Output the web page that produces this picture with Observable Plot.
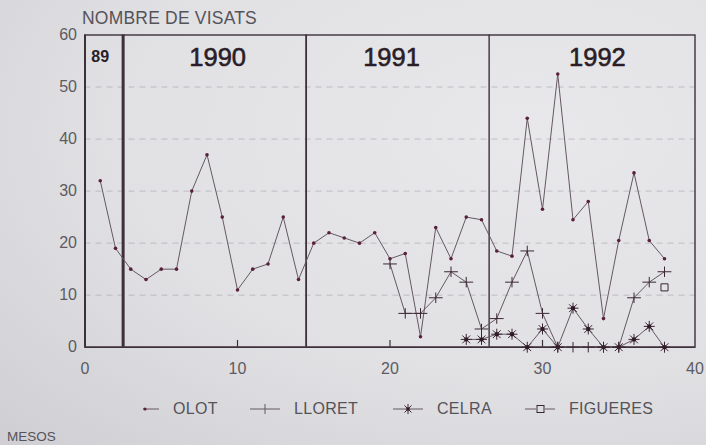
<!DOCTYPE html>
<html><head><meta charset="utf-8">
<script src="https://cdn.jsdelivr.net/npm/d3@7"></script>
<script src="https://cdn.jsdelivr.net/npm/@observablehq/plot@0.6"></script>
<style>
body{margin:0;background:#e2e2e5;}
#wrap{position:relative;width:706px;height:445px;overflow:hidden;font-family:"Liberation Sans",Arial,sans-serif;
  background:radial-gradient(ellipse at 75% 30%, #e8e8eb 0%, #e1e1e4 55%, #cfcfd3 100%);}
#chart{position:absolute;left:0;top:0;}
.t{position:absolute;white-space:nowrap;color:#55535a;}
#title{left:82px;top:8px;font-size:17.5px;letter-spacing:0.2px;}
#mesos{left:7px;top:429px;font-size:13.5px;}
.leg{font-size:16px;top:400px;letter-spacing:0.3px;}
.sym{position:absolute;top:400px;}
</style></head><body>
<div id="wrap">
  <div id="chart"></div>
  <div class="t" id="title">NOMBRE DE VISATS</div>
  <div id="legend"></div>
  <div class="t" id="mesos">MESOS</div>
</div>
<script>
// ---- data ----
const olotMonths = [1,2,3,4,5,6,7,8,9,10,11,12,13,14,15,16,17,18,19,20,21,22,23,24,25,26,27,28,29,30,31,32,33,34,35,36,37,38];
const olot = [32,19,15,13,15,15,30,37,25,11,15,16,25,13,20,22,21,20,22,17,18,2,23,17,25,24.5,18.5,17.5,44,26.5,52.5,24.5,28,5.5,20.5,33.5,20.5,17];
const lloretMonths = [20,21,22,23,24,25,26,27,28,29,30,31,32,33,34,35,36,37,38];
const lloret = [16,6.5,6.5,9.5,14.5,12.5,3.5,5.5,12.5,18.5,6.5,0,0,0,0,0,9.5,12.5,14.5];
const celraMonths = [25,26,27,28,29,30,31,32,33,34,35,36,37,38];
const celra = [1.5,1.5,2.5,2.5,0,3.5,0,7.5,3.5,0,0,1.5,4,0];
const figueresMonths = [38];
const figueres = [11.5];
const yearBreaks = [2.5, 14.5, 26.5];
const yearLabels = ["89","1990","1991","1992"];
const yearPos = [1, 8.7, 20.1, 33.6];
const xTicks = [0,10,20,30,40];
const yTicks = [0,10,20,30,40,50,60];
const gridY = [10,20,30,40,50];
const seriesNames = ["OLOT","LLORET","CELRA","FIGUERES"];

const toRows = (ms, vs) => ms.map((m,i)=>({m, v: vs[i]}));
const olotRows = toRows(olotMonths, olot);
const lloretRows = toRows(lloretMonths, lloret);
const celraRows = toRows(celraMonths, celra);
const figRows = toRows(figueresMonths, figueres);
const yearRows = yearLabels.map((t,i)=>({t, x: yearPos[i]}));

const ink = "#3d3039";
const lineCol = "#655861";

const plusSym = {draw(ctx, size){ const r = Math.sqrt(size/Math.PI);
  ctx.moveTo(-r*1.25,0); ctx.lineTo(r*1.25,0); ctx.moveTo(0,-r*0.95); ctx.lineTo(0,r*0.95);}};
const starSym = {draw(ctx, size){ const r = Math.sqrt(size/Math.PI);
  for (const a of [0,45,90,135]) { const c = Math.cos(a*Math.PI/180)*r, s = Math.sin(a*Math.PI/180)*r;
    ctx.moveTo(-c,-s); ctx.lineTo(c,s);} }};

const chart = Plot.plot({
  width: 706, height: 385,
  marginLeft: 84.5, marginRight: 11.5, marginTop: 34.5, marginBottom: 38.3,
  style: {background: "transparent", fontFamily: "Liberation Sans, Arial, sans-serif", fontSize: "16px", color: "#5c5a62", overflow: "visible"},
  x: {domain: [0,40], ticks: xTicks, tickSize: 0, tickPadding: 15, label: null},
  y: {domain: [0,60], ticks: yTicks, tickSize: 0, tickPadding: 8, label: null},
  marks: [
    Plot.ruleY(gridY, {stroke: "#a3a2aa", strokeWidth: 0.8, strokeDasharray: "6,5", strokeOpacity: 0.75}),
    Plot.ruleX([yearBreaks[0]], {y1: 0, y2: 60, stroke: ink, strokeWidth: 3}),
    Plot.ruleX([yearBreaks[1]], {y1: 0, y2: 60, stroke: ink, strokeWidth: 1.8}),
    Plot.ruleX([yearBreaks[2]], {y1: 0, y2: 60, stroke: ink, strokeWidth: 1.4}),
    Plot.ruleX([10,20,30], {y1: 0, y2: 1.3, stroke: ink, strokeWidth: 1.2}),
    Plot.frame({stroke: ink, strokeWidth: 1.4}),
    Plot.ruleX([0], {y1: 0, y2: 60, stroke: ink, strokeWidth: 2}),
    Plot.ruleY([0], {stroke: ink, strokeWidth: 1.5}),
    Plot.text(yearRows.filter(d=>d.t==="89"), {x: "x", y: 55.7, text: "t", fontSize: 16, fontWeight: "bold", fill: "#2b1d27"}),
    Plot.text(yearRows.filter(d=>d.t!=="89"), {x: "x", y: 55.7, text: "t", fontSize: 25.5, fill: "#2b1d27", stroke: "#2b1d27", strokeWidth: 0.6, letterSpacing: "1px"}),
    Plot.line(celraRows, {x: "m", y: "v", stroke: lineCol, strokeWidth: 1}),
    Plot.line(lloretRows, {x: "m", y: "v", stroke: lineCol, strokeWidth: 1}),
    Plot.line(olotRows, {x: "m", y: "v", stroke: lineCol, strokeWidth: 1}),
    Plot.dot(celraRows, {x: "m", y: "v", symbol: starSym, r: 5.5, stroke: "#3a2632", strokeWidth: 1, fill: "none"}),
    Plot.dot(celraRows, {x: "m", y: "v", r: 2.2, fill: "#2f1a27"}),
    Plot.dot(lloretRows, {x: "m", y: "v", symbol: plusSym, r: 5.5, stroke: "#3a2632", strokeWidth: 1, fill: "none"}),
    Plot.dot(olotRows, {x: "m", y: "v", r: 1.8, fill: "#5a1f3a"}),
    Plot.dot(figRows, {x: "m", y: "v", symbol: "square", r: 4, stroke: "#3a2632", strokeWidth: 1, fill: "none"})
  ]
});
document.getElementById("chart").appendChild(chart);

// legend
const legendSym = [
  `<svg width="18" height="18"><line x1="1" y1="9" x2="17" y2="9" stroke="${lineCol}"/><circle cx="3" cy="9" r="1.6" fill="#5a1f3a"/></svg>`,
  `<svg width="32" height="18"><line x1="1" y1="9" x2="31" y2="9" stroke="${lineCol}"/><line x1="16" y1="4" x2="16" y2="14" stroke="${lineCol}"/></svg>`,
  `<svg width="32" height="18"><line x1="1" y1="9" x2="31" y2="9" stroke="${lineCol}"/><g stroke="#3a2632"><line x1="16" y1="4" x2="16" y2="14"/><line x1="12.5" y1="5.5" x2="19.5" y2="12.5"/><line x1="19.5" y1="5.5" x2="12.5" y2="12.5"/></g><circle cx="16" cy="9" r="1.8" fill="#2f1a27"/></svg>`,
  `<svg width="32" height="18"><line x1="1" y1="9" x2="12" y2="9" stroke="${lineCol}"/><line x1="21" y1="9" x2="31" y2="9" stroke="${lineCol}"/><rect x="13" y="5.5" width="7" height="7" fill="none" stroke="#3a2632"/></svg>`
];
const symLeft = [142, 249, 392, 524];
const textLeft = [173, 294, 437, 569];
const leg = document.getElementById("legend");
seriesNames.forEach((n,i)=>{
  const s = document.createElement("div"); s.className="sym"; s.style.left = symLeft[i]+"px"; s.innerHTML = legendSym[i]; leg.appendChild(s);
  const t = document.createElement("div"); t.className="t leg"; t.style.left = textLeft[i]+"px"; t.textContent = n; leg.appendChild(t);
});
</script>
</body></html>
